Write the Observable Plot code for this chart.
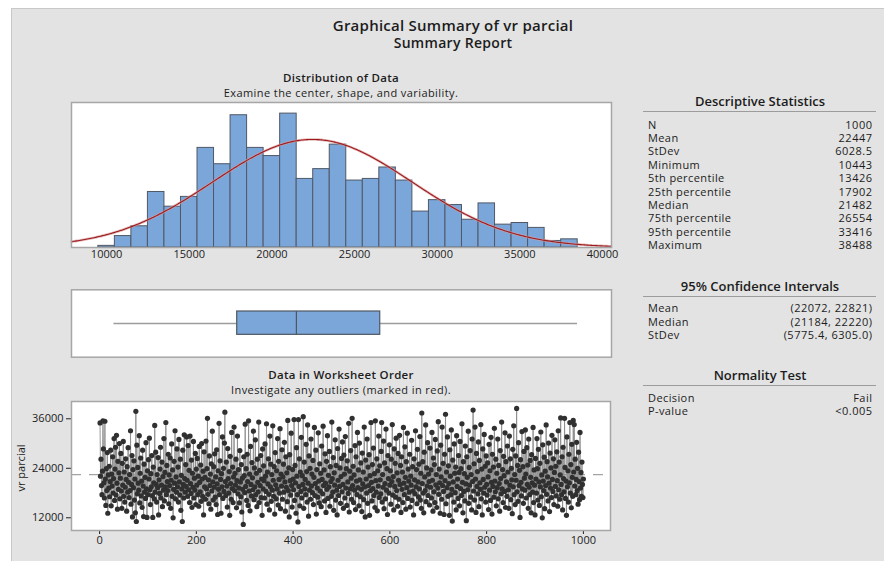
<!DOCTYPE html>
<html>
<head>
<meta charset="utf-8">
<script src="https://cdn.jsdelivr.net/npm/d3@7"></script>
<script src="https://cdn.jsdelivr.net/npm/@observablehq/plot@0.6"></script>
<style>
  html, body { margin: 0; padding: 0; background: #fff; }
  #page { position: relative; width: 884px; height: 561px; overflow: hidden;
          font-family: "Open Sans", "Noto Sans", sans-serif; color: #1c1c1c; }
  #panel { position: absolute; left: 11px; top: 8px; right: 0; bottom: 0;
           background: #e3e3e3; border-left: 1px solid #c8c8c8; border-top: 1px solid #c8c8c8; }
  .c { position: absolute; white-space: nowrap; transform: translate(-50%, -50%); line-height: 1; }
  .l { position: absolute; white-space: nowrap; transform: translateY(-50%); font-size: 11px; line-height: 11px; letter-spacing: 0.4px; }
  .r { position: absolute; white-space: nowrap; transform: translateY(-50%); font-size: 11px; line-height: 11px; letter-spacing: 0.5px; text-align: right; }
  .rule { position: absolute; height: 0; border-top: 1px solid #9c9c9c; }
  .plot { position: absolute; left: 0; }
</style>
</head>
<body>
<div id="page">
  <div id="panel"></div>
</div>
<script>
// ---- Histogram of vr parcial (bins of width 1000, labelled by centre) ----
const histBinCenters = [10000, 11000, 12000, 13000, 14000, 15000, 16000, 17000, 18000, 19000,
  20000, 21000, 22000, 23000, 24000, 25000, 26000, 27000, 28000, 29000,
  30000, 31000, 32000, 33000, 34000, 35000, 36000, 37000, 38000];
const histCounts = [1, 7, 13, 34, 25, 31, 61, 51, 81, 61,
  56, 82, 42, 48, 63, 41, 42, 49, 41, 22,
  29, 26, 17, 27, 14, 15, 12, 4, 5];
const histTicks = [10000, 15000, 20000, 25000, 30000, 35000, 40000];

// ---- Descriptive statistics ----
const descLabels = ["N", "Mean", "StDev", "Minimum", "5th percentile", "25th percentile",
  "Median", "75th percentile", "95th percentile", "Maximum"];
const descValues = ["1000", "22447", "6028.5", "10443", "13426", "17902",
  "21482", "26554", "33416", "38488"];

const ciLabels = ["Mean", "Median", "StDev"];
const ciValues = ["(22072, 22821)", "(21184, 22220)", "(5775.4, 6305.0)"];

const normLabels = ["Decision", "P-value"];
const normValues = ["Fail", "<0.005"];

// ---- Worksheet order: vr parcial, in hundreds, rows 1..1000 ----
const vrParcialHundreds = [
350,221,262,198,176,233,355,287,205,168,354,214,150,239,186,278,131,224,192,245,
171,208,284,149,226,197,268,180,215,312,162,238,291,175,320,204,141,257,189,229,
300,166,216,276,185,143,252,199,305,172,231,158,194,263,213,136,244,182,290,206,
169,225,186,331,153,201,271,122,237,193,258,163,214,132,378,111,296,178,242,204,
187,319,156,228,265,173,209,145,284,197,123,250,182,218,167,302,190,121,234,176,
261,214,313,188,152,227,195,271,174,121,243,205,166,344,182,279,201,158,225,193,
266,127,212,179,238,291,168,199,255,147,220,187,312,161,230,195,351,176,247,208,
186,274,154,224,198,265,143,211,299,172,236,120,189,257,204,331,166,219,182,287,
195,243,158,310,207,175,262,138,223,190,111,284,201,168,321,215,182,249,196,316,
211,172,295,188,235,157,318,203,179,260,145,228,194,305,168,216,187,276,152,238,
199,264,176,221,148,293,206,183,248,160,300,214,172,233,127,280,195,218,165,306,
190,239,361,177,212,154,270,198,226,141,251,185,330,207,163,244,194,275,170,219,
152,285,202,128,234,189,349,176,258,213,131,227,195,316,167,240,184,301,376,208,
174,255,197,146,288,215,180,232,126,269,203,165,327,191,243,157,219,340,186,228,
199,262,144,210,318,178,237,192,156,283,207,171,249,134,216,189,104,268,222,181,
347,196,239,162,274,208,150,355,185,226,137,293,201,173,254,217,188,330,164,241,
195,309,176,228,147,262,206,183,352,157,235,198,271,169,214,126,287,190,246,210,
168,299,221,184,348,153,231,202,263,177,139,318,195,250,160,225,187,343,211,172,
244,129,278,200,166,234,190,312,151,257,213,180,336,142,226,197,285,165,219,250,
182,303,207,136,268,194,229,159,356,186,241,122,273,210,175,325,198,146,237,214,
188,358,162,247,205,131,290,221,176,110,358,196,263,149,231,184,315,168,222,201,
365,143,255,190,213,176,298,232,158,345,204,124,270,187,240,165,311,197,226,181,
259,152,218,339,174,203,284,129,237,192,170,326,209,156,251,185,228,147,294,213,
178,342,198,236,161,275,204,133,257,189,319,167,223,195,281,148,244,208,172,352,
215,182,266,138,229,199,309,163,247,187,127,288,211,174,335,196,241,155,220,264,
183,304,201,143,272,226,168,317,192,239,150,258,207,179,349,134,233,190,283,216,
165,361,198,245,157,224,187,295,140,268,209,176,327,193,236,149,301,212,171,253,
189,135,277,202,231,164,340,195,122,260,214,180,311,155,243,198,273,126,222,186,
351,206,161,249,191,289,174,227,145,355,210,182,263,137,234,197,318,169,246,212,
178,281,351,158,225,194,306,142,253,203,166,335,187,239,128,271,215,180,297,199,
234,153,262,208,346,175,220,139,287,196,252,170,313,186,229,148,276,211,165,320,
201,247,133,268,189,231,157,339,204,176,292,218,141,256,193,325,167,238,209,182,
274,146,221,199,308,162,244,185,127,263,212,178,331,195,237,154,286,207,171,250,
190,317,163,228,143,374,203,256,180,132,279,219,186,345,159,241,197,302,174,226,
208,151,289,194,236,168,327,211,136,265,183,249,157,310,200,225,145,282,192,353,
177,238,205,131,296,219,165,340,198,252,184,128,274,210,371,154,231,193,316,172,
246,203,126,285,221,176,333,189,112,260,207,158,299,228,181,243,139,319,196,214,
167,271,230,149,305,191,239,174,348,206,132,256,184,227,161,294,202,113,268,218,
188,330,155,242,199,283,170,225,139,311,208,381,185,251,163,340,214,133,276,196,
232,178,304,147,259,205,189,346,166,238,127,287,213,180,322,194,245,158,270,201,
175,253,219,140,298,187,234,162,315,206,129,274,196,243,170,337,209,183,262,149,
228,193,311,166,247,203,136,283,215,178,352,190,237,157,269,222,184,326,145,256,
207,172,294,231,188,143,318,199,263,164,240,212,130,286,195,343,176,225,152,270,
211,385,183,247,160,302,198,235,121,261,206,173,329,190,244,155,281,216,187,333,
226,168,290,201,248,143,311,194,176,259,218,132,273,205,182,339,157,236,199,127,
264,214,180,312,239,163,286,207,150,252,195,328,171,224,120,297,209,186,267,142,
233,198,345,177,256,219,161,301,204,135,277,192,241,169,320,213,184,263,152,230,
309,196,245,173,280,210,148,331,188,255,165,224,362,201,176,268,139,291,215,183,
361,242,167,209,126,316,195,234,158,274,205,351,180,249,144,298,218,172,356,231,
346,197,262,176,213,303,186,240,153,279,208,164,327,192,230,172,255,201,169,214
];
const orderTicksX = [0, 200, 400, 600, 800, 1000];
const orderTicksY = [12000, 24000, 36000];

// ---------------------------------------------------------------
const page = document.getElementById("page");
const FONT = '"Open Sans", "Noto Sans", sans-serif';

function addText(cls, text, x, y, css = {}) {
  const d = document.createElement("div");
  d.className = cls;
  d.textContent = text;
  d.style.left = x + "px";
  d.style.top = y + "px";
  Object.assign(d.style, css);
  page.appendChild(d);
  return d;
}
function addRule(x1, x2, y) {
  const d = document.createElement("div");
  d.className = "rule";
  d.style.left = x1 + "px";
  d.style.width = (x2 - x1) + "px";
  d.style.top = y + "px";
  page.appendChild(d);
}
function addTable(labels, values, yStart, step) {
  labels.forEach((lab, i) => {
    const y = yStart + i * step;
    addText("l", lab, 648, y);
    const v = addText("r", values[i], 0, y);
    v.style.left = "auto";
    v.style.right = (884 - 872.5) + "px";
  });
}

// Titles
addText("c", "Graphical Summary of vr parcial", 453, 25, {fontSize: "15px", fontWeight: 600, letterSpacing: "0.25px"});
addText("c", "Summary Report", 453, 43, {fontSize: "14px", fontWeight: 600, letterSpacing: "0.3px"});
addText("c", "Distribution of Data", 341, 77.5, {fontSize: "11.5px", fontWeight: 600, letterSpacing: "0.3px"});
addText("c", "Examine the center, shape, and variability.", 341, 91.5, {fontSize: "11px", letterSpacing: "0.42px"});
addText("c", "Data in Worksheet Order", 341, 374.5, {fontSize: "11.5px", fontWeight: 600, letterSpacing: "0.3px"});
addText("c", "Investigate any outliers (marked in red).", 341, 388.5, {fontSize: "11px", letterSpacing: "0.42px"});

// Right-hand tables
addText("c", "Descriptive Statistics", 760, 101, {fontSize: "13px", fontWeight: 600});
addRule(643, 876, 111);
addTable(descLabels, descValues, 123.5, 13.4);

addText("c", "95% Confidence Intervals", 760, 285.5, {fontSize: "13px", fontWeight: 600});
addRule(643, 876, 296);
addTable(ciLabels, ciValues, 307.3, 13.4);

addText("c", "Normality Test", 760, 375, {fontSize: "13px", fontWeight: 600});
addRule(643, 876, 385);
addTable(normLabels, normValues, 397, 13.4);

// Y label of worksheet-order plot
addText("c", "vr parcial", 20, 468, {fontSize: "11px", transform: "translate(-50%, -50%) rotate(-90deg)"});

function place(svg, top) {
  const wrap = document.createElement("div");
  wrap.className = "plot";
  wrap.style.top = top + "px";
  wrap.appendChild(svg);
  page.appendChild(wrap);
}

const baseStyle = {background: "transparent", fontFamily: FONT, fontSize: "11px", color: "#222", overflow: "visible"};
const xDomain = [7877, 40545];

// ---- Histogram with fitted normal curve ----
const nObs = +descValues[0], mean = +descValues[1], sd = +descValues[2];
const binWidth = histBinCenters[1] - histBinCenters[0];
const bins = histBinCenters.map((c, i) => ({x1: c - binWidth / 2, x2: c + binWidth / 2, count: histCounts[i]}));
const curve = d3.range(xDomain[0], xDomain[1] + 1, 80).map(x => ({
  x,
  y: nObs * binWidth * Math.exp(-0.5 * ((x - mean) / sd) ** 2) / (sd * Math.sqrt(2 * Math.PI))
}));

place(Plot.plot({
  width: 630, height: 174,
  marginLeft: 71, marginRight: 19, marginTop: 7, marginBottom: 22,
  style: baseStyle,
  x: {domain: xDomain, ticks: histTicks, tickFormat: d3.format("d"), tickSize: 0, tickPadding: 3, label: null},
  y: {domain: [0, 88.8], axis: null},
  marks: [
    Plot.frame({fill: "white", stroke: null}),
    Plot.rectY(bins, {x1: "x1", x2: "x2", y: "count", fill: "#7ba6d9", stroke: "#505866", strokeWidth: 1}),
    Plot.line(curve, {x: "x", y: "y", stroke: "#d99a9a", strokeWidth: 2.6, strokeOpacity: 0.7}),
    Plot.line(curve, {x: "x", y: "y", stroke: "#9c1a1e", strokeWidth: 1.1}),
    Plot.frame({stroke: "#a6a6a6", strokeWidth: 1.5})
  ]
}), 95);

// ---- Boxplot from the stated quartiles ----
const box = {min: +descValues[3], q1: +descValues[5], med: +descValues[6], q3: +descValues[7], max: +descValues[9]};
place(Plot.plot({
  width: 630, height: 80,
  marginLeft: 71, marginRight: 19, marginTop: 9.3, marginBottom: 3.3,
  style: baseStyle,
  x: {domain: xDomain, axis: null},
  y: {domain: [0, 1], axis: null},
  marks: [
    Plot.frame({fill: "white", stroke: null}),
    Plot.ruleY([box], {x1: "min", x2: "q1", y: () => 0.5, stroke: "#9d9d9d", strokeWidth: 1.6}),
    Plot.ruleY([box], {x1: "q3", x2: "max", y: () => 0.5, stroke: "#9d9d9d", strokeWidth: 1.6}),
    Plot.rect([box], {x1: "q1", x2: "q3", y1: () => 0.332, y2: () => 0.678, fill: "#7ba6d9", stroke: "#4f5663", strokeWidth: 1.2}),
    Plot.ruleX([box], {x: "med", y1: () => 0.332, y2: () => 0.678, stroke: "#4f5663", strokeWidth: 1.2}),
    Plot.frame({stroke: "#a6a6a6", strokeWidth: 1.5})
  ]
}), 280);

// ---- Data in worksheet order ----
place(Plot.plot({
  width: 630, height: 159,
  marginLeft: 71, marginRight: 20, marginTop: 6, marginBottom: 24,
  style: baseStyle,
  x: {domain: [-58, 1056], ticks: orderTicksX, tickFormat: d3.format("d"), tickSize: 4, tickPadding: 2, label: null},
  y: {domain: [8920, 40190], ticks: orderTicksY, tickFormat: d3.format("d"), tickSize: 5, tickPadding: 3, label: null},
  marks: [
    Plot.frame({fill: "white", stroke: null}),
    Plot.ruleY([mean], {stroke: "#a3a3a3", strokeWidth: 1.2, strokeDasharray: "10,8"}),
    Plot.line(vrParcialHundreds, {x: (d, i) => i + 1, y: d => d * 100, stroke: "#8c8c8c", strokeWidth: 0.9}),
    Plot.dot(vrParcialHundreds, {x: (d, i) => i + 1, y: d => d * 100, r: 2.6, fill: "#303030"}),
    Plot.frame({stroke: "#a6a6a6", strokeWidth: 1.5})
  ]
}), 395);
</script>
</body>
</html>
